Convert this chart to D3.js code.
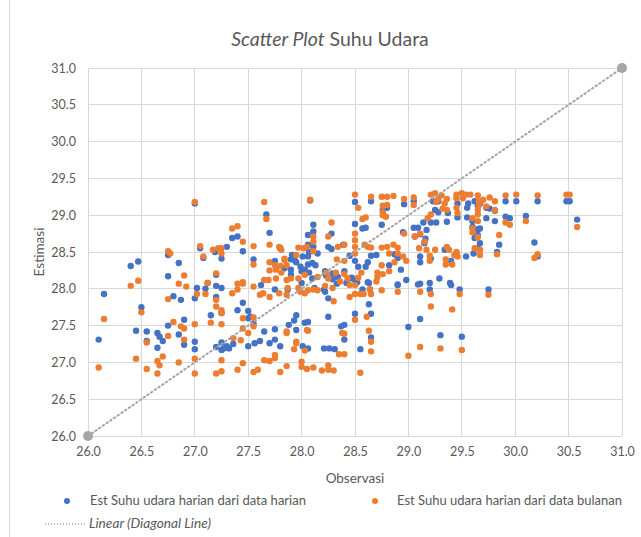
<!DOCTYPE html>
<html><head><meta charset="utf-8">
<script src="https://cdn.jsdelivr.net/npm/d3@7"></script>
<style>body{margin:0;background:#fff}svg{display:block}text{font-family:Lato,"Open Sans",sans-serif;fill:#595959}</style>
</head><body><svg id="c" width="641" height="537"></svg>
<script>
const xTicks = [26.0,26.5,27.0,27.5,28.0,28.5,29.0,29.5,30.0,30.5,31.0];
const yTicks = [26.0,26.5,27.0,27.5,28.0,28.5,29.0,29.5,30.0,30.5,31.0];
const diagonal = [[26,26],[31,31]];
const seriesNames = ["Est Suhu udara harian dari  data harian","Est Suhu udara harian dari  data bulanan","Linear (Diagonal Line)"];
// [observasi, estimasi] — Est from daily data
const harian = [
[26.10,27.31],[26.15,27.93],[26.40,28.31],[26.47,28.37],[26.50,27.75],[26.45,27.43],[26.55,27.42],[26.55,27.29],[26.65,27.40],[26.67,27.35],
[26.70,27.29],[26.65,27.20],[26.75,27.50],[26.80,27.90],[26.85,27.38],[26.90,27.58],[26.90,27.24],[26.87,27.85],[26.75,28.46],[26.85,28.35],
[26.75,28.17],[27.00,29.16],[27.05,28.55],[27.08,28.42],[27.19,28.50],[27.20,28.19],[27.02,28.01],[27.00,27.87],[27.10,28.00],[27.00,27.28],
[27.00,27.18],[27.12,28.08],[27.20,28.04],[27.20,27.89],[27.15,27.64],[27.25,27.67],[27.20,27.21],[27.25,27.17],[27.67,29.01],[27.70,28.76],
[28.08,29.20],[27.35,28.69],[27.40,28.71],[27.45,28.51],[27.30,28.57],[27.55,28.40],[28.11,28.87],[28.11,28.78],[28.11,28.57],[28.28,28.75],
[27.80,28.55],[28.25,28.57],[28.06,28.73],[28.06,28.60],[28.07,28.50],[28.06,28.44],[28.15,28.48],[27.75,28.38],[27.76,28.30],[27.84,28.28],
[27.90,28.26],[27.90,28.19],[27.94,28.38],[28.00,28.24],[28.03,28.26],[28.22,28.24],[28.23,28.18],[28.29,28.21],[28.29,28.13],[28.34,28.16],
[28.45,28.14],[28.40,28.24],[28.45,28.45],[28.39,28.60],[28.28,28.54],[27.25,28.41],[28.01,28.44],[28.13,28.32],[28.10,28.35],[28.06,28.33],
[28.07,28.22],[27.95,28.36],[27.90,28.40],[27.91,28.46],[27.99,28.30],[27.25,28.01],[27.45,27.81],[27.40,27.71],[27.50,27.70],[27.52,27.62],
[27.55,27.53],[27.50,27.60],[27.65,27.42],[27.75,27.45],[27.88,27.51],[27.95,27.64],[27.93,27.57],[28.03,27.54],[28.06,27.55],[27.95,27.44],
[28.25,27.62],[28.37,27.49],[28.40,27.51],[28.40,27.31],[27.25,27.27],[27.30,27.22],[27.36,27.25],[27.27,27.19],[27.32,27.19],[27.50,27.22],
[27.56,27.26],[27.61,27.29],[27.70,27.26],[27.75,27.31],[27.80,27.22],[28.01,27.22],[28.06,27.19],[28.21,27.19],[28.26,27.19],[28.31,27.18],
[28.12,28.01],[28.22,27.96],[28.25,27.87],[27.62,28.05],[27.75,27.99],[27.87,27.99],[28.00,28.08],[28.10,28.14],[28.21,27.99],[28.33,28.07],
[28.42,28.08],[28.50,28.12],[28.57,27.99],[28.63,28.08],[28.64,27.99],[28.63,27.79],[28.50,27.66],[28.65,27.66],[28.90,28.05],[29.11,28.07],
[29.20,28.08],[29.20,27.99],[29.40,28.05],[29.48,27.99],[29.11,27.59],[29.00,27.48],[29.30,27.37],[29.50,27.35],[28.65,27.34],[28.55,27.18],
[28.98,28.12],[29.75,27.99],[29.91,29.19],[30.01,29.19],[30.21,29.19],[30.48,29.19],[30.51,29.19],[30.58,28.94],[30.10,28.99],[29.91,28.98],
[29.95,28.96],[29.73,28.96],[29.81,28.92],[29.65,28.81],[29.65,28.73],[29.85,28.60],[30.18,28.63],[30.21,28.44],[29.83,28.50],[29.65,28.55],
[29.73,29.10],[29.76,29.09],[29.81,29.06],[29.67,29.16],[28.50,29.18],[28.65,29.19],[28.76,29.07],[28.80,29.10],[28.75,28.87],[28.96,29.15],
[29.05,29.19],[29.25,29.07],[29.28,29.04],[29.37,29.03],[29.36,28.91],[29.28,29.19],[29.23,29.19],[29.46,29.16],[29.56,29.16],[29.62,29.19],
[29.65,29.13],[29.55,29.10],[29.46,28.97],[29.55,28.97],[29.60,28.92],[29.60,28.84],[29.67,28.82],[29.62,28.69],[29.67,28.62],[29.61,28.48],
[28.50,28.88],[28.57,28.82],[28.60,28.83],[28.50,28.38],[28.65,28.45],[28.70,28.46],[28.87,28.47],[28.90,28.42],[28.93,28.26],[28.82,28.32],
[28.60,28.30],[28.62,28.36],[28.53,28.30],[28.47,28.15],[28.62,28.09],[28.52,28.09],[28.90,28.06],[28.95,28.77],[29.05,28.83],[29.09,28.83],
[29.14,28.90],[29.17,28.80],[29.21,28.90],[29.26,28.90],[29.11,28.74],[29.16,28.68],[29.06,28.71],[29.15,28.62],[29.11,28.44],[29.11,28.36],
[29.21,28.41],[29.34,28.53],[29.40,28.38],[29.45,28.48],[29.54,28.44],[29.09,28.06],[29.29,28.14],[29.39,28.08]
];
// [observasi, estimasi] — Est from monthly data
const bulanan = [
[26.10,26.93],[26.15,27.59],[26.40,28.04],[26.47,28.11],[26.50,27.68],[26.45,27.05],[26.55,27.27],[26.55,26.91],[26.65,27.02],[26.67,26.96],
[26.70,27.08],[26.65,26.85],[26.75,27.36],[26.80,27.55],[26.75,27.86],[26.87,27.49],[26.90,27.46],[26.90,27.31],[26.85,27.00],[26.85,28.07],
[26.92,28.03],[27.02,27.93],[27.10,27.93],[27.00,27.52],[27.00,27.05],[27.00,26.85],[27.20,27.85],[27.20,27.76],[27.15,27.54],[27.25,27.52],
[27.25,27.03],[27.20,26.85],[27.25,26.88],[27.00,29.18],[26.75,28.51],[26.77,28.48],[26.90,28.18],[27.05,28.58],[27.08,28.44],[27.17,28.53],
[27.20,28.21],[27.22,28.55],[27.12,28.08],[27.65,29.18],[27.67,28.95],[28.08,29.21],[27.35,28.82],[27.40,28.85],[27.45,28.64],[27.25,28.55],
[27.25,28.48],[27.55,28.58],[27.55,28.33],[28.11,28.71],[28.11,28.64],[28.11,28.51],[28.28,28.90],[28.25,28.71],[27.79,28.57],[27.81,28.53],
[28.34,28.57],[28.40,28.60],[27.97,28.56],[28.02,28.55],[28.05,28.57],[27.70,28.60],[27.70,28.36],[27.75,28.32],[27.80,28.31],[27.84,28.39],
[27.86,28.32],[27.81,28.22],[27.76,28.26],[27.70,28.25],[27.69,28.12],[27.76,28.14],[27.86,28.12],[27.90,28.14],[27.97,28.14],[28.03,28.19],
[28.15,28.16],[28.25,28.14],[28.23,28.22],[28.32,28.22],[28.33,28.40],[28.40,28.38],[28.40,28.20],[28.43,28.14],[28.36,28.10],[27.40,28.07],
[27.45,28.09],[27.65,28.12],[27.95,28.46],[27.84,28.41],[27.35,27.94],[27.45,28.07],[27.40,27.99],[27.25,27.71],[27.25,27.67],[27.55,28.03],
[27.61,27.92],[27.64,27.94],[27.70,27.89],[27.79,27.94],[27.86,27.92],[27.87,28.01],[27.97,28.01],[28.06,27.98],[28.11,27.99],[28.15,27.98],
[28.22,28.04],[28.29,28.01],[27.99,27.96],[28.03,27.94],[28.30,27.83],[27.45,27.46],[27.50,27.40],[27.43,27.30],[27.36,27.33],[27.45,27.60],
[27.55,27.61],[27.55,27.49],[27.86,27.42],[27.86,27.40],[28.05,27.44],[28.40,27.39],[27.45,26.99],[27.40,26.90],[27.55,26.87],[27.59,26.90],
[27.65,27.03],[27.70,27.02],[27.75,27.10],[27.75,27.06],[27.95,27.28],[27.95,27.26],[27.80,26.87],[27.86,26.95],[28.00,27.01],[28.00,26.94],
[28.05,26.91],[28.11,26.93],[27.93,27.18],[28.03,27.16],[28.25,26.96],[28.25,26.90],[28.30,26.89],[28.19,26.89],[28.35,27.11],[28.40,27.11],
[28.38,27.40],[28.06,27.43],[28.45,28.05],[28.50,28.05],[28.45,27.89],[28.50,27.93],[28.55,27.93],[28.58,27.93],[28.65,27.93],[28.64,27.99],
[28.75,27.98],[28.90,27.96],[29.11,27.96],[29.21,27.93],[29.48,27.93],[28.70,28.10],[29.21,27.76],[29.41,27.72],[28.61,27.62],[28.50,27.58],
[28.63,27.43],[28.65,27.28],[28.65,27.15],[29.00,27.09],[29.11,27.21],[29.30,27.19],[29.50,27.17],[28.55,26.86],[29.75,27.92],[29.91,29.27],
[30.01,29.28],[30.21,29.27],[30.48,29.28],[30.51,29.28],[30.58,28.84],[30.10,28.92],[29.91,28.90],[29.95,28.87],[29.85,28.73],[30.18,28.42],
[30.21,28.47],[29.83,28.47],[29.65,28.70],[29.70,29.21],[29.76,29.24],[29.81,29.19],[29.73,29.12],[29.81,29.07],[29.65,29.07],[29.65,29.01],
[28.50,29.28],[28.65,29.25],[28.53,29.10],[28.75,29.25],[28.80,29.25],[28.86,29.26],[28.80,29.14],[28.76,29.13],[28.76,29.04],[28.76,29.00],
[28.79,28.98],[28.96,29.22],[29.05,29.24],[29.05,29.14],[29.21,29.28],[29.25,29.30],[29.31,29.27],[29.36,29.22],[29.34,29.16],[29.28,29.22],
[29.26,29.18],[29.32,29.09],[29.36,29.07],[29.45,29.28],[29.50,29.30],[29.54,29.28],[29.58,29.28],[29.45,29.23],[29.51,29.23],[29.45,29.10],
[29.46,29.03],[29.65,29.27],[29.66,29.19],[29.66,29.14],[29.60,28.96],[29.60,28.82],[29.60,28.77],[29.65,28.92],[29.67,28.53],[29.62,28.55],
[29.67,28.46],[28.57,28.95],[28.60,28.97],[28.50,28.75],[28.50,28.66],[28.50,28.57],[28.50,28.48],[28.59,28.60],[28.62,28.57],[28.65,28.56],
[28.75,28.56],[28.80,28.57],[28.86,28.60],[28.90,28.56],[28.82,28.48],[28.90,28.48],[28.95,28.44],[28.87,28.36],[28.75,28.32],[28.71,28.22],
[28.71,28.16],[28.56,28.22],[28.53,28.15],[28.76,28.20],[28.82,28.24],[28.98,28.38],[28.96,28.75],[29.06,28.71],[29.11,28.75],[29.18,28.96],
[29.21,29.01],[29.15,28.64],[29.10,28.55],[29.17,28.53],[29.20,28.45],[29.20,28.38],[29.25,28.53],[29.36,28.57],[29.35,28.40],[29.35,28.33],
[29.41,28.33],[29.43,28.46],[29.45,28.50],[29.46,28.44],[29.38,28.53]
];

const BLUE = "#4472C4", ORANGE = "#ED7D31", GREY = "#A5A5A5", GRID = "#D9D9D9";
const svg = d3.select("#c");
const L = 88, R = 622, T = 68, B = 436;
const x = d3.scaleLinear().domain([26,31]).range([L,R]);
const y = d3.scaleLinear().domain([26,31]).range([B,T]);

// outer chart frame (left edge visible)
svg.append("line").attr("x1",9.5).attr("x2",9.5).attr("y1",0).attr("y2",537).attr("stroke","#D9D9D9");

// grid
const g = svg.append("g");
g.selectAll(".gx").data(xTicks).join("line").attr("x1",d=>x(d)).attr("x2",d=>x(d)).attr("y1",T).attr("y2",B).attr("stroke",GRID).attr("stroke-width",1).attr("shape-rendering","crispEdges");
g.selectAll(".gy").data(yTicks).join("line").attr("y1",d=>y(d)).attr("y2",d=>y(d)).attr("x1",L).attr("x2",R).attr("stroke",GRID).attr("stroke-width",1).attr("shape-rendering","crispEdges");

// axes labels via d3 axes
const xAxis = svg.append("g").attr("transform",`translate(0,${B})`).call(d3.axisBottom(x).tickValues(xTicks).tickFormat(d3.format(".1f")).tickSize(0).tickPadding(11));
const yAxis = svg.append("g").attr("transform",`translate(${L},0)`).call(d3.axisLeft(y).tickValues(yTicks).tickFormat(d3.format(".1f")).tickSize(0).tickPadding(12));
[xAxis,yAxis].forEach(a=>{a.select(".domain").remove(); a.selectAll("text").attr("font-size",12.5).attr("fill","#595959").style("font-family","Lato, sans-serif");});

// title
const title = svg.append("text").attr("x",330).attr("y",46).attr("text-anchor","middle").attr("font-size",19.5);
title.append("tspan").attr("font-style","italic").text("Scatter Plot");
title.append("tspan").text(" Suhu Udara");

svg.append("text").attr("x",355).attr("y",483).attr("text-anchor","middle").attr("font-size",13.5).text("Observasi");
svg.append("text").attr("transform","translate(44,252) rotate(-90)").attr("text-anchor","middle").attr("font-size",13.5).text("Estimasi");

// points
const dots = svg.append("g");
dots.selectAll(".b").data(harian).join("circle").attr("cx",d=>x(d[0])).attr("cy",d=>y(d[1])).attr("r",3.2).attr("fill",BLUE);
dots.selectAll(".o").data(bulanan).join("circle").attr("cx",d=>x(d[0])).attr("cy",d=>y(d[1])).attr("r",3.2).attr("fill",ORANGE);

// diagonal line
const line = d3.line().x(d=>x(d[0])).y(d=>y(d[1]));
svg.append("path").attr("d",line(diagonal)).attr("stroke",GREY).attr("stroke-width",2).attr("stroke-dasharray","1.5,3").attr("stroke-linecap","round").attr("fill","none");
svg.selectAll(".ep").data(diagonal).join("circle").attr("cx",d=>x(d[0])).attr("cy",d=>y(d[1])).attr("r",5).attr("fill",GREY);

// legend
const lg = svg.append("g");
lg.append("circle").attr("cx",67).attr("cy",501).attr("r",3).attr("fill",BLUE);
lg.append("text").attr("x",90).attr("y",505).attr("font-size",12.5).attr("textLength",216).attr("lengthAdjust","spacingAndGlyphs").text(seriesNames[0]);
lg.append("circle").attr("cx",375).attr("cy",501).attr("r",3).attr("fill",ORANGE);
lg.append("text").attr("x",397).attr("y",505).attr("font-size",12.5).attr("textLength",225).attr("lengthAdjust","spacingAndGlyphs").text(seriesNames[1]);
lg.append("line").attr("x1",45).attr("x2",86).attr("y1",524).attr("y2",524).attr("stroke",GREY).attr("stroke-width",1.5).attr("stroke-dasharray","1,2");
lg.append("text").attr("x",89).attr("y",528).attr("font-size",12.5).attr("font-style","italic").attr("textLength",122).attr("lengthAdjust","spacingAndGlyphs").text(seriesNames[2]);
</script></body></html>
